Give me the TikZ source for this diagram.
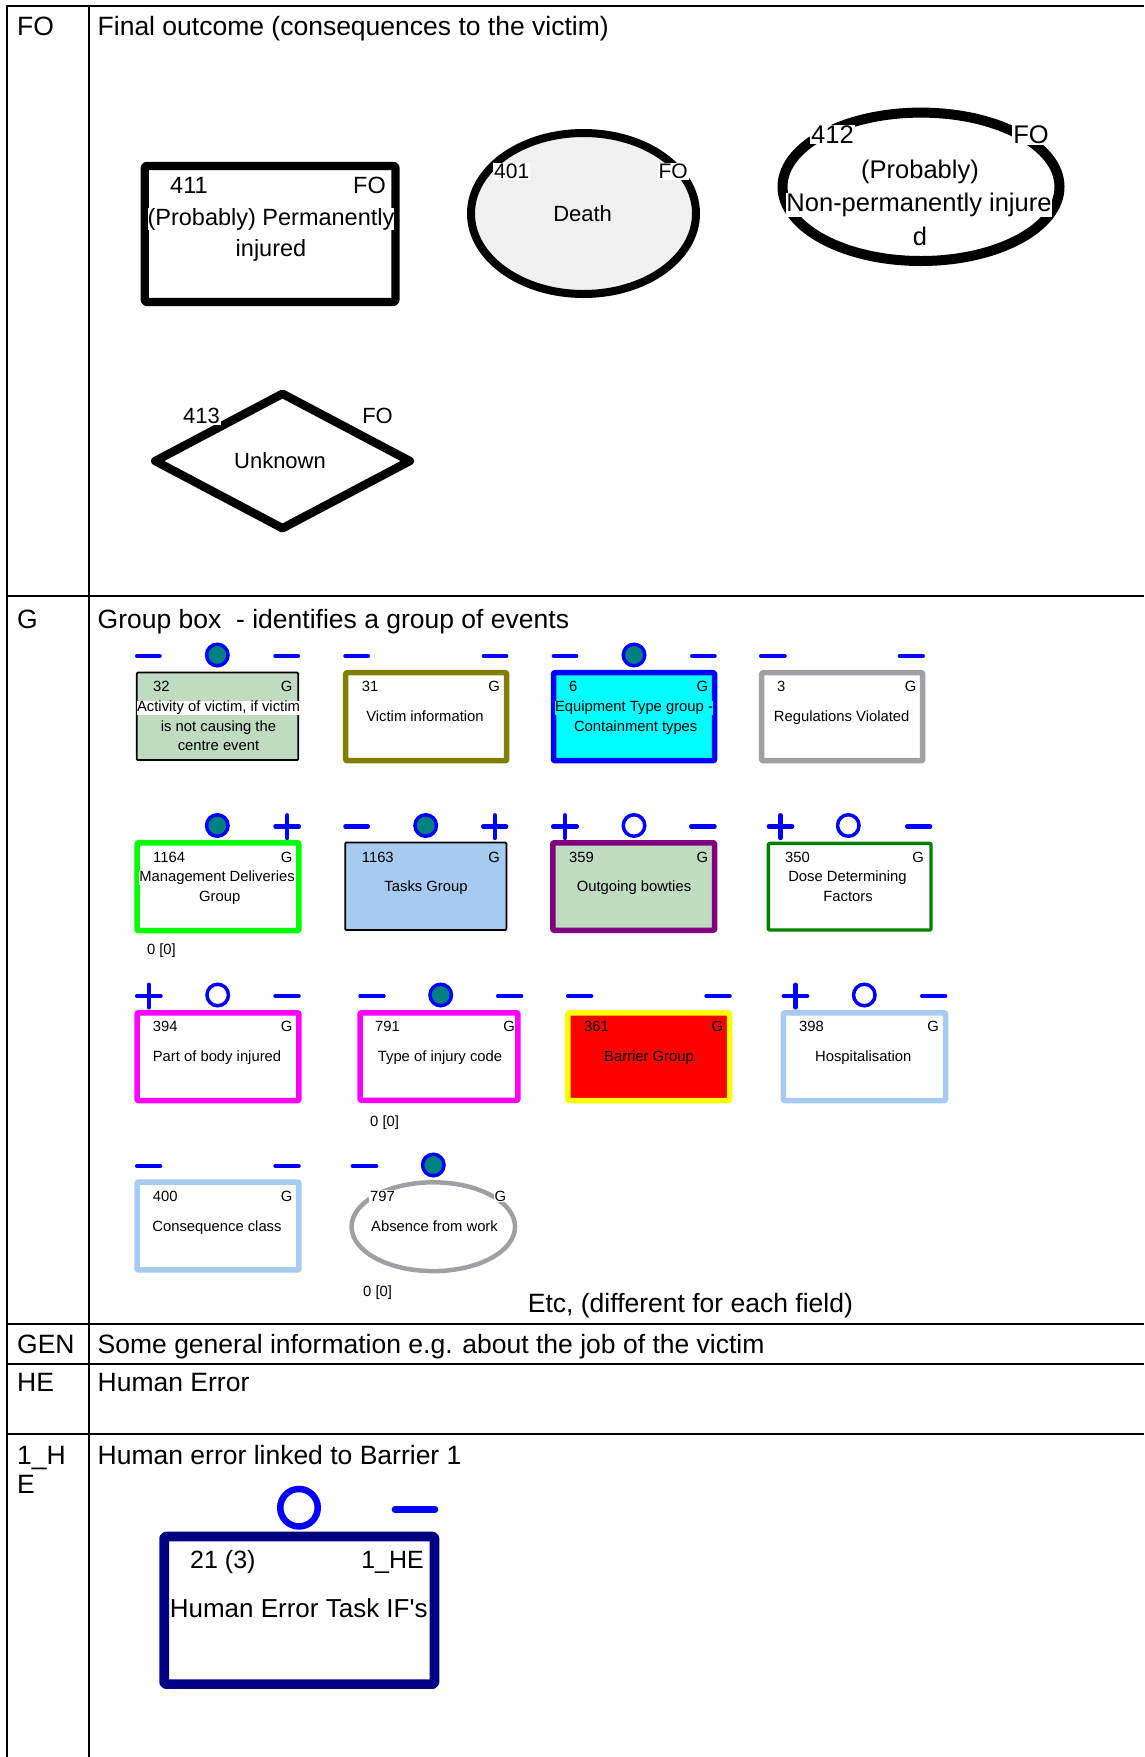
\documentclass[tikz,border=0pt]{standalone}
\usepackage{fontspec}
\setmainfont{Liberation Sans}
\usetikzlibrary{shapes.geometric}
\definecolor{moneygreen}{HTML}{C0DCC0}
\definecolor{skyb}{HTML}{A6CAF0}
\definecolor{grayb}{HTML}{A0A0A4}
\definecolor{tealc}{HTML}{008080}
\definecolor{olivec}{HTML}{808000}
\definecolor{purplec}{HTML}{800080}
\definecolor{dgreen}{HTML}{008000}
\definecolor{navyc}{HTML}{000080}
\definecolor{lgray}{HTML}{F0F0F0}
\definecolor{cyanc}{HTML}{00FFFF}
\definecolor{magentac}{HTML}{FF00FF}
\definecolor{yellowc}{HTML}{FFFF00}
\definecolor{greenc}{HTML}{00FF00}
\definecolor{bluec}{HTML}{0000FF}
\definecolor{redc}{HTML}{FF0000}
\newcommand{\mkdash}[3]{\draw[mk] ({#1+2.1},#3) -- ({#2-2.1},#3);}
\newcommand{\mkplus}[3]{\draw[mk] ({#1+2.1},#3) -- ({#2-2.1},#3) ({(#1+#2)/2},{#3-11.3}) -- ({(#1+#2)/2},{#3+11.5});}
\begin{document}
\begin{tikzpicture}[x=1pt,y=-1pt,
  grid/.style={line width=2pt},
  sect/.style={anchor=base west, inner sep=0pt, font=\fontsize{26.5}{30}\selectfont},
  small/.style={inner sep=0pt, font=\fontsize{14.8}{17}\selectfont},
  sid/.style={small, anchor=base west},
  sg/.style={small, anchor=base east},
  stx/.style={small, anchor=base},
  mk/.style={draw=bluec, line width=4.3pt, line cap=round},
  fdot/.style={circle, draw=bluec, fill=tealc, line width=3.5pt, minimum size=21.5pt, inner sep=0pt},
  odot/.style={circle, draw=bluec, line width=3.5pt, minimum size=21.5pt, inner sep=0pt},
  gbox/.style={rectangle, inner sep=0pt, line join=round, rounded corners=1pt},
  thinbox/.style={gbox, draw=black, line width=1.8pt, minimum width=161.5pt, minimum height=87.5pt},
  thickbox/.style={gbox, line width=5.5pt, minimum width=161pt, minimum height=88pt},
  wbg/.style={fill=white}
]
\useasboundingbox (0,0) rectangle (1144,1757);
\fill[white] (0,0) rectangle (1144,1757);

% ---------- table grid ----------
\draw[grid] (7,1757) -- (7,6) -- (1144,6);
\draw[grid] (88.5,6) -- (88.5,1757);
\draw[grid] (7,596) -- (1144,596);
\draw[grid] (7,1323.5) -- (1144,1323.5);
\draw[grid] (7,1364) -- (1144,1364);
\draw[grid] (7,1434) -- (1144,1434);

% ---------- row labels and titles ----------
\node[sect] (lFO) at (17,35.5) {FO};
\node[sect] (tFO) at (97.5,35.5) {Final outcome (consequences to the victim)};
\node[sect] (lG) at (17,628.5) {G};
\node[sect] (tG) at (97.5,628.5) {Group box~ - identifies a group of events};
\node[sect] (tEtc) at (527.7,1312) {Etc, (different for each field)};
\node[sect] (lGEN) at (17,1353.5) {GEN};
\node[sect] (tGEN) at (97.5,1353.5) {Some general information e.g. about the job of the victim};
\node[sect] (lHE) at (17,1391) {HE};
\node[sect] (tHE) at (97.5,1391) {Human Error};
\node[sect] (l1Ha) at (17,1464) {1\_H};
\node[sect] (l1Hb) at (17,1493) {E};
\node[sect] (t1HE) at (97.5,1464) {Human error linked to Barrier 1};

% ---------- FO shapes ----------
\node[gbox, draw=black, line width=8.3pt, minimum width=250.7pt, minimum height=136pt, rounded corners=2pt] (n411) at (270.1,233.9) {};
\begin{scope}[font=\fontsize{23.5}{27}\selectfont, inner sep=0pt]
\node[anchor=base west] (n411id) at (170,193.3) {411};
\node[anchor=base east] (n411t) at (386,193.3) {FO};
\node[anchor=base, wbg] (n411a) at (271,225) {(Probably) Permanently};
\node[anchor=base] (n411b) at (271,256) {injured};
\end{scope}

\node[ellipse, draw=black, fill=lgray, line width=8pt, minimum width=225pt, minimum height=161pt, inner sep=0pt] (n401) at (583.5,213.5) {};
\node[anchor=base west, wbg, inner sep=1pt, font=\fontsize{21}{24}\selectfont] (n401id) at (493,178.5) {401};
\node[anchor=base east, wbg, inner sep=1pt, font=\fontsize{21}{24}\selectfont] (n401t) at (689,178.5) {FO};
\node[anchor=base, inner sep=0pt, font=\fontsize{22}{25}\selectfont] (n401a) at (582.6,221.7) {Death};

\node[ellipse, draw=black, line width=10pt, minimum width=277pt, minimum height=148.4pt, inner sep=0pt] (n412) at (921,186.8) {};
\begin{scope}[font=\fontsize{25.5}{29}\selectfont, inner sep=0pt]
\node[anchor=base west, wbg, inner sep=1pt] (n412id) at (810,143.3) {412};
\node[anchor=base east, wbg, inner sep=1pt] (n412t) at (1050,143.3) {FO};
\node[anchor=base] (n412a) at (920,178.5) {(Probably)};
\node[anchor=base, wbg] (n412b) at (919,211.5) {Non-permanently injure};
\node[anchor=base] (n412c) at (920,245.5) {d};
\end{scope}

\node[diamond, draw=black, line width=8.5pt, line join=round, minimum width=258pt, minimum height=138pt, inner sep=0pt] (n413) at (282.5,461) {};
\begin{scope}[font=\fontsize{22}{25}\selectfont, inner sep=0pt]
\node[anchor=base west, wbg, inner sep=1pt] (n413id) at (182,423.3) {413};
\node[anchor=base east] (n413t) at (393,423.3) {FO};
\node[anchor=base] (n413a) at (280,468.3) {Unknown};
\end{scope}

% ---------- G boxes, row 1 ----------
\node[thinbox, fill=moneygreen] (b32) at (217.5,716.3) {};
\node[sid] (b32id) at (153,691.5) {32};
\node[sg] (b32g) at (292.7,691.5) {G};
\node[stx, wbg] (b32a) at (218.5,711.5) {Activity of victim, if victim};
\node[stx] (b32b) at (218.5,731) {is not causing the};
\node[stx] (b32c) at (218.5,750.5) {centre event};
\mkdash{135}{161.7}{656}
\node[fdot] (m32) at (217.3,655) {};
\mkdash{273.3}{300}{656}

\node[thickbox, draw=olivec, fill=white] (b31) at (426.2,716.7) {};
\node[sid] (b31id) at (361.7,691.5) {31};
\node[sg] (b31g) at (500,691.5) {G};
\node[stx] (b31a) at (425,721.5) {Victim information};
\mkdash{343.3}{370}{656}
\mkdash{481.7}{508.3}{656}

\node[thickbox, draw=bluec, fill=cyanc] (b6) at (634,716.7) {};
\node[sid] (b6id) at (569,691.5) {6};
\node[sg] (b6g) at (708.3,691.5) {G};
\node[stx, fill=cyanc] (b6a) at (634,711.5) {Equipment Type group -};
\node[stx] (b6b) at (635.7,731) {Containment types};
\mkdash{551.7}{578.3}{656}
\node[fdot] (m6) at (634,655) {};
\mkdash{690}{716.7}{656}

\node[thickbox, draw=grayb, fill=white] (b3) at (842.2,716.7) {};
\node[sid] (b3id) at (777,691.5) {3};
\node[sg] (b3g) at (916.7,691.5) {G};
\node[stx] (b3a) at (841.7,721.5) {Regulations Violated};
\mkdash{759}{786.7}{656}
\mkdash{897.7}{925}{656}

% ---------- row 2 ----------
\node[thickbox, draw=greenc, fill=white, minimum width=161.9pt, minimum height=87.8pt] (b1164) at (218,886.7) {};
\node[sid] (b1164id) at (153,862.5) {1164};
\node[sg] (b1164g) at (292.7,862.5) {G};
\node[stx, wbg] (b1164a) at (217,881.5) {Management Deliveries};
\node[stx] (b1164b) at (219.8,901.5) {Group};
\node[small, anchor=base west] (b1164z) at (146.8,954.5) {0 [0]};
\node[fdot] (m1164) at (217.3,825.5) {};
\mkplus{273.3}{301}{826.5}

\node[thinbox, fill=skyb, minimum width=161.2pt, minimum height=87.5pt] (b1163) at (425.8,886.3) {};
\node[sid] (b1163id) at (361.7,862.5) {1163};
\node[sg] (b1163g) at (500,862.5) {G};
\node[stx] (b1163a) at (426,891.5) {Tasks Group};
\mkdash{343.3}{370}{826.5}
\node[fdot] (m1163) at (425.7,825.5) {};
\mkplus{481}{508.3}{826.5}

\node[thickbox, draw=purplec, fill=moneygreen, minimum width=161.8pt, minimum height=87.5pt] (b359) at (633.7,886.5) {};
\node[sid] (b359id) at (569,862.5) {359};
\node[sg] (b359g) at (708.3,862.5) {G};
\node[stx] (b359a) at (634,891.5) {Outgoing bowties};
\mkplus{551}{579}{826.5}
\node[odot] (m359) at (634,825.5) {};
\mkdash{689}{716.7}{826.5}

\node[gbox, draw=dgreen, fill=white, line width=3.3pt, minimum width=162.7pt, minimum height=86.7pt] (b350) at (849.7,886.7) {};
\node[sid] (b350id) at (785,862.5) {350};
\node[sg] (b350g) at (924,862.5) {G};
\node[stx] (b350a) at (847.5,881.5) {Dose Determining};
\node[stx] (b350b) at (848,901.5) {Factors};
\mkplus{766.7}{794.3}{826.5}
\node[odot] (m350) at (848.3,825.5) {};
\mkdash{905}{932.3}{826.5}

% ---------- row 3 ----------
\node[thickbox, draw=magentac, fill=white, minimum width=161.9pt, minimum height=87.8pt] (b394) at (218,1056.7) {};
\node[sid] (b394id) at (152.7,1031.5) {394};
\node[sg] (b394g) at (292.7,1031.5) {G};
\node[stx] (b394a) at (217,1061.5) {Part of body injured};
\mkplus{135}{162.7}{996}
\node[odot] (m394) at (217.7,995) {};
\mkdash{273.3}{300.7}{996}

\node[thickbox, draw=magentac, fill=white, minimum width=157.9pt, minimum height=87.5pt] (b791) at (439,1056.5) {};
\node[sid] (b791id) at (375,1031.5) {791};
\node[sg] (b791g) at (515,1031.5) {G};
\node[stx] (b791a) at (440,1061.5) {Type of injury code};
\node[small, anchor=base west] (b791z) at (370,1126) {0 [0]};
\mkdash{358.3}{385.7}{996}
\node[fdot] (m791) at (440.7,995) {};
\mkdash{496}{523.3}{996}

\node[thickbox, draw=yellowc, fill=redc, minimum width=161.8pt, minimum height=87.8pt] (b361) at (648.7,1056.7) {};
\node[sid] (b361id) at (584,1031.5) {361};
\node[sg] (b361g) at (723.3,1031.5) {G};
\node[stx] (b361a) at (649,1061.5) {Barrier Group};
\mkdash{566}{593.3}{996}
\mkdash{704.3}{731.7}{996}

\node[thickbox, draw=skyb, fill=white, minimum width=162.1pt, minimum height=87.8pt] (b398) at (864.5,1056.7) {};
\node[sid] (b398id) at (799,1031.5) {398};
\node[sg] (b398g) at (939,1031.5) {G};
\node[stx] (b398a) at (863.3,1061.5) {Hospitalisation};
\mkplus{781.7}{809.3}{996}
\node[odot] (m398) at (864.3,995) {};
\mkdash{920}{947.3}{996}

% ---------- row 4 ----------
\node[thickbox, draw=skyb, fill=white, minimum width=161.9pt, minimum height=87.9pt] (b400) at (218,1226) {};
\node[sid] (b400id) at (152.7,1201) {400};
\node[sg] (b400g) at (292.7,1201) {G};
\node[stx] (b400a) at (217,1231.5) {Consequence class};
\mkdash{135}{162.3}{1166}
\mkdash{273.3}{300.7}{1166}

\node[ellipse, draw=grayb, line width=4.5pt, minimum width=163.5pt, minimum height=88.8pt, inner sep=0pt] (e797) at (433.3,1226.7) {};
\node[sid, wbg, inner sep=1pt] (e797id) at (369,1201) {797};
\node[sg, wbg, inner sep=1pt] (e797g) at (507.3,1201) {G};
\node[stx] (e797a) at (434.5,1231.5) {Absence from work};
\node[small, anchor=base west] (e797z) at (363,1296) {0 [0]};
\mkdash{350.7}{378.3}{1166}
\node[fdot] (m797) at (433.3,1165) {};

% ---------- 1_HE box ----------
\node[gbox, draw=navyc, fill=white, line width=9.7pt, minimum width=270.3pt, minimum height=147.6pt, rounded corners=2pt] (b21) at (299.3,1610.3) {};
\begin{scope}[font=\fontsize{25}{29}\selectfont, inner sep=0pt]
\node[anchor=base west] (b21id) at (190,1568.5) {21 (3)};
\node[anchor=base east] (b21t) at (424,1568.5) {1\_HE};
\node[anchor=base, font=\fontsize{26}{30}\selectfont] (b21a) at (298.7,1617.5) {Human Error Task IF\textquotesingle s};
\end{scope}
\node[circle, draw=bluec, line width=6.5pt, minimum size=37.5pt, inner sep=0pt] (m21) at (299,1507.7) {};
\draw[draw=bluec, line width=6.7pt, line cap=round] (395,1509.3) -- (435,1509.3);
\end{tikzpicture}
\end{document}
